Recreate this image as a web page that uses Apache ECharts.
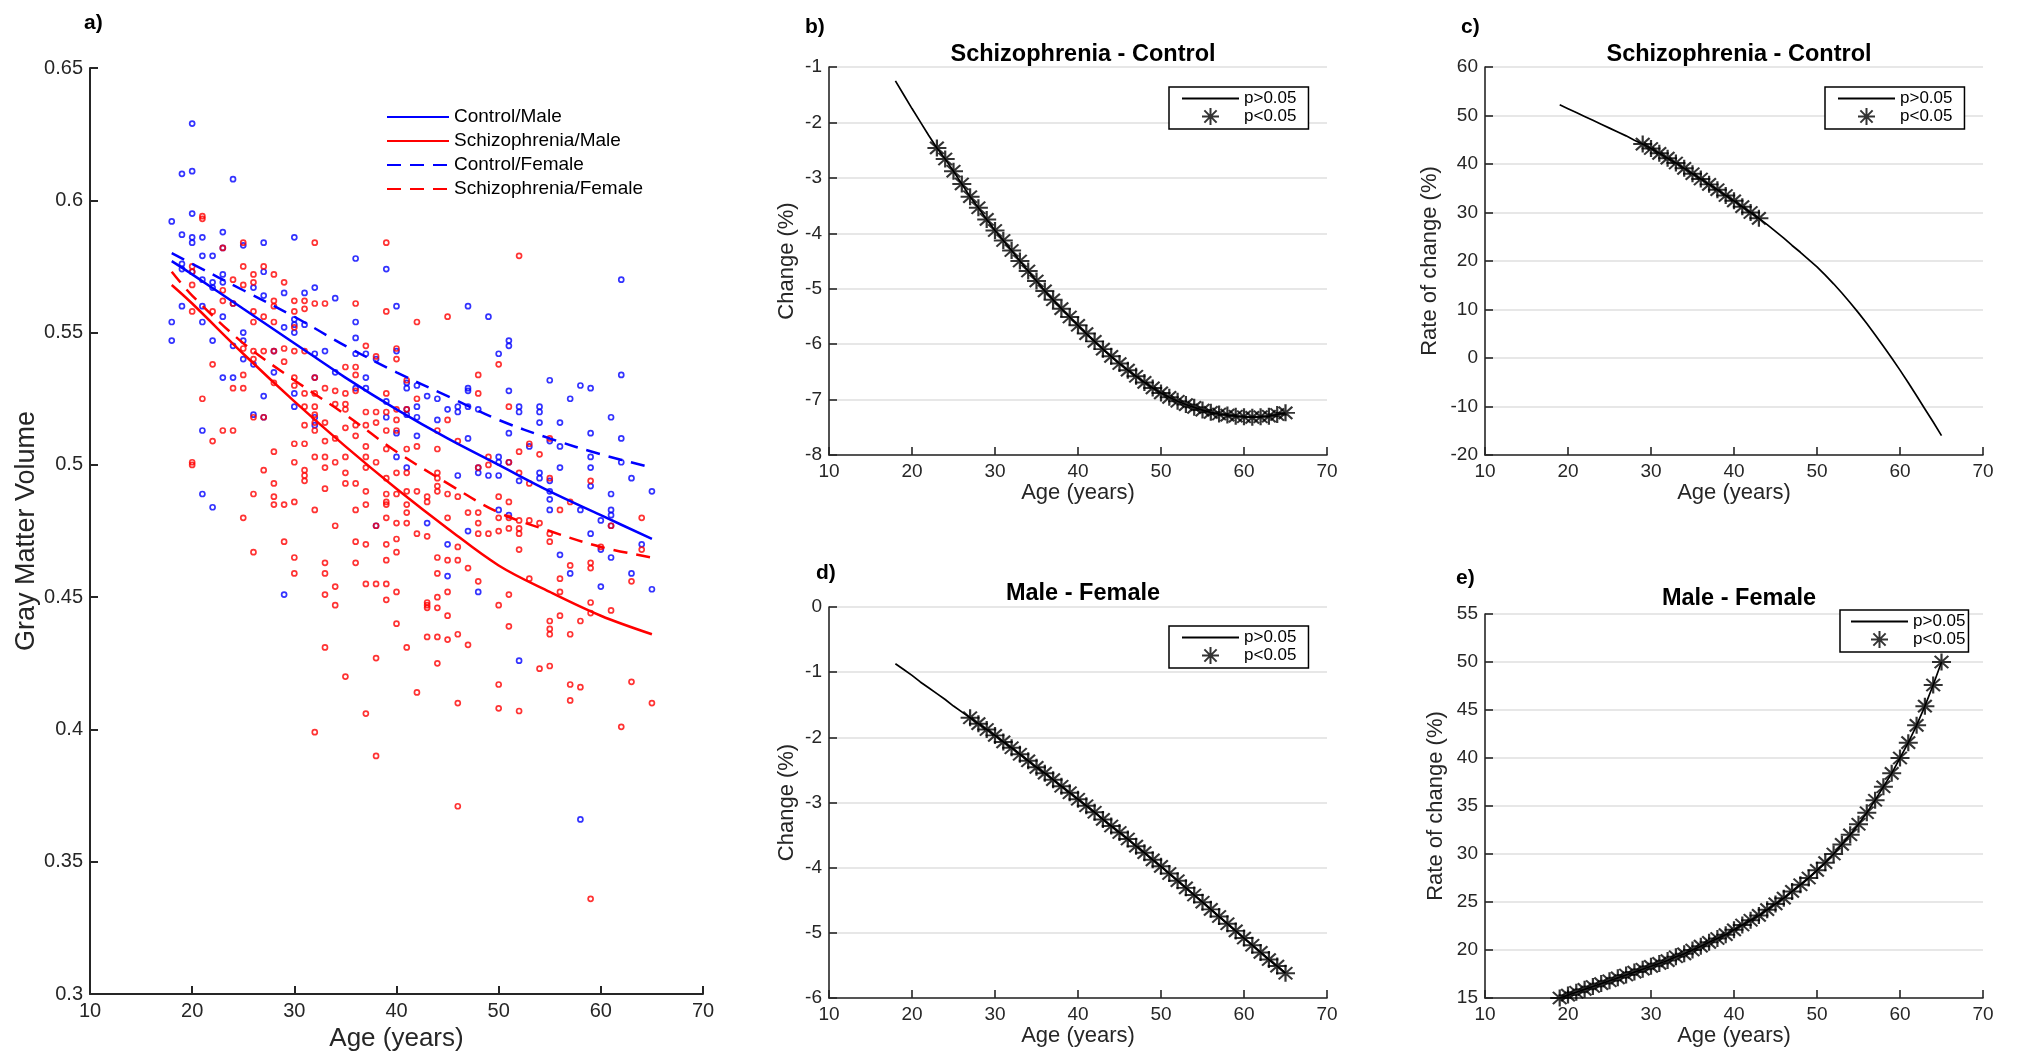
<!DOCTYPE html>
<html><head><meta charset="utf-8">
<script src="https://cdn.jsdelivr.net/npm/echarts@6/dist/echarts.min.js"></script>
<style>html,body{margin:0;padding:0;background:#fff}#c{width:2018px;height:1057px}</style>
</head><body><div id="c"></div>
<script>
const FONT = "'Liberation Sans', Arial, Helvetica, sans-serif";

// ---------- Panel a: scatter data [age, gray matter volume] ----------
const controlPoints = [
[18,0.592],[18,0.554],[18,0.547],
[19,0.610],[19,0.587],[19,0.576],[19,0.574],[19,0.560],
[20,0.629],[20,0.611],[20,0.595],[20,0.586],[20,0.584],[20,0.573],
[21,0.586],[21,0.579],[21,0.570],[21,0.560],[21,0.554],[21,0.513],[21,0.489],
[22,0.579],[22,0.569],[22,0.567],[22,0.547],[22,0.484],
[23,0.588],[23,0.582],[23,0.572],[23,0.569],[23,0.556],[23,0.533],
[24,0.608],[24,0.561],[24,0.545],[24,0.533],
[25,0.583],[25,0.550],[25,0.547],[25,0.540],
[26,0.567],[26,0.538],[26,0.519],
[27,0.584],[27,0.573],[27,0.564],[27,0.526],[27,0.518],
[28,0.543],[28,0.535],
[29,0.565],[29,0.552],[29,0.451],
[30,0.586],[30,0.555],[30,0.553],[30,0.550],[30,0.527],[30,0.522],
[31,0.565],[31,0.553],
[32,0.567],[32,0.542],[32,0.533],[32,0.518],[32,0.515],
[33,0.543],
[34,0.563],[34,0.535],
[36,0.578],[36,0.554],[36,0.548],[36,0.542],[36,0.529],
[37,0.542],[37,0.533],[37,0.529],
[38,0.540],[38,0.477],
[39,0.574],[39,0.524],[39,0.518],
[40,0.560],[40,0.543],[40,0.512],[40,0.503],
[41,0.531],[41,0.529],[41,0.521],[41,0.519],[41,0.499],
[42,0.530],[42,0.522],[42,0.518],[42,0.511],
[43,0.526],[43,0.478],
[44,0.525],[44,0.517],
[45,0.521],[45,0.470],[45,0.458],
[46,0.522],[46,0.520],[46,0.496],
[47,0.560],[47,0.529],[47,0.528],[47,0.522],[47,0.510],[47,0.475],
[48,0.521],[48,0.499],[48,0.497],[48,0.452],
[49,0.556],[49,0.496],
[50,0.542],[50,0.503],[50,0.501],[50,0.496],[50,0.483],
[51,0.547],[51,0.545],[51,0.528],[51,0.512],[51,0.501],[51,0.481],
[52,0.522],[52,0.520],[52,0.494],[52,0.426],
[53,0.507],
[54,0.522],[54,0.520],[54,0.516],[54,0.497],[54,0.495],
[55,0.532],[55,0.509],[55,0.494],[55,0.490],[55,0.487],[55,0.483],
[56,0.516],[56,0.507],[56,0.499],[56,0.466],
[57,0.525],[57,0.459],
[58,0.530],[58,0.483],[58,0.366],
[59,0.529],[59,0.512],[59,0.503],[59,0.499],[59,0.492],[59,0.474],
[60,0.479],[60,0.468],[60,0.454],
[61,0.518],[61,0.489],[61,0.483],[61,0.481],[61,0.477],[61,0.465],
[62,0.570],[62,0.534],[62,0.510],[62,0.501],
[63,0.495],[63,0.459],
[64,0.470],
[65,0.490],[65,0.453]
];
const schizPoints = [
[20,0.501],[20,0.500],[20,0.575],[20,0.573],[20,0.568],[20,0.558],
[21,0.594],[21,0.593],[21,0.525],
[22,0.558],[22,0.538],[22,0.509],
[23,0.582],[23,0.566],[23,0.562],[23,0.513],
[24,0.570],[24,0.561],[24,0.529],[24,0.513],
[25,0.584],[25,0.575],[25,0.568],[25,0.544],[25,0.534],[25,0.529],[25,0.480],
[26,0.572],[26,0.569],[26,0.558],[26,0.554],[26,0.543],[26,0.540],[26,0.518],[26,0.489],[26,0.467],
[27,0.575],[27,0.556],[27,0.543],[27,0.518],[27,0.498],
[28,0.572],[28,0.562],[28,0.560],[28,0.554],[28,0.543],[28,0.531],[28,0.505],[28,0.493],[28,0.488],[28,0.485],
[29,0.569],[29,0.544],[29,0.539],[29,0.485],[29,0.471],
[30,0.562],[30,0.558],[30,0.552],[30,0.543],[30,0.533],[30,0.530],[30,0.508],[30,0.501],[30,0.486],[30,0.465],[30,0.459],
[31,0.562],[31,0.559],[31,0.543],[31,0.527],[31,0.522],[31,0.515],[31,0.508],[31,0.498],[31,0.496],[31,0.494],
[32,0.584],[32,0.561],[32,0.533],[32,0.527],[32,0.522],[32,0.519],[32,0.516],[32,0.513],[32,0.503],[32,0.483],[32,0.399],
[33,0.561],[33,0.529],[33,0.516],[33,0.509],[33,0.503],[33,0.499],[33,0.491],[33,0.463],[33,0.459],[33,0.451],[33,0.431],
[34,0.528],[34,0.523],[34,0.510],[34,0.501],[34,0.477],[34,0.454],[34,0.447],
[35,0.537],[35,0.527],[35,0.523],[35,0.521],[35,0.514],[35,0.503],[35,0.497],[35,0.493],[35,0.420],
[36,0.561],[36,0.537],[36,0.534],[36,0.528],[36,0.515],[36,0.511],[36,0.493],[36,0.483],[36,0.471],[36,0.463],
[37,0.545],[37,0.520],[37,0.515],[37,0.507],[37,0.503],[37,0.499],[37,0.490],[37,0.485],[37,0.470],[37,0.455],[37,0.406],
[38,0.541],[38,0.520],[38,0.516],[38,0.501],[38,0.477],[38,0.455],[38,0.427],[38,0.390],
[39,0.584],[39,0.558],[39,0.527],[39,0.520],[39,0.513],[39,0.506],[39,0.495],[39,0.489],[39,0.486],[39,0.485],[39,0.480],[39,0.470],[39,0.464],[39,0.455],[39,0.449],
[40,0.544],[40,0.540],[40,0.521],[40,0.517],[40,0.513],[40,0.497],[40,0.489],[40,0.478],[40,0.472],[40,0.467],[40,0.452],[40,0.440],
[41,0.532],[41,0.521],[41,0.506],[41,0.497],[41,0.490],[41,0.485],[41,0.482],[41,0.478],[41,0.431],
[42,0.554],[42,0.525],[42,0.507],[42,0.490],[42,0.474],[42,0.414],
[43,0.488],[43,0.486],[43,0.473],[43,0.448],[43,0.447],[43,0.446],[43,0.435],
[44,0.513],[44,0.506],[44,0.497],[44,0.495],[44,0.492],[44,0.490],[44,0.465],[44,0.459],[44,0.450],[44,0.446],[44,0.435],[44,0.425],
[45,0.556],[45,0.517],[45,0.489],[45,0.480],[45,0.464],[45,0.452],[45,0.443],[45,0.434],
[46,0.509],[46,0.488],[46,0.469],[46,0.464],[46,0.436],[46,0.410],[46,0.371],
[47,0.482],[47,0.461],[47,0.432],
[48,0.534],[48,0.527],[48,0.499],[48,0.482],[48,0.478],[48,0.474],[48,0.456],
[49,0.503],[49,0.500],[49,0.474],
[50,0.538],[50,0.488],[50,0.480],[50,0.475],[50,0.447],[50,0.417],[50,0.408],
[51,0.522],[51,0.501],[51,0.486],[51,0.480],[51,0.476],[51,0.451],[51,0.439],
[52,0.579],[52,0.505],[52,0.497],[52,0.479],[52,0.476],[52,0.474],[52,0.468],[52,0.407],
[53,0.508],[53,0.493],[53,0.479],[53,0.457],
[54,0.504],[54,0.478],[54,0.423],
[55,0.510],[55,0.495],[55,0.474],[55,0.471],[55,0.441],[55,0.438],[55,0.436],[55,0.424],
[56,0.483],[56,0.457],[56,0.452],[56,0.443],
[57,0.486],[57,0.462],[57,0.436],[57,0.417],[57,0.411],
[58,0.441],[58,0.416],
[59,0.494],[59,0.463],[59,0.461],[59,0.448],[59,0.444],[59,0.336],
[60,0.469],
[61,0.477],[61,0.445],
[62,0.401],
[63,0.456],[63,0.418],
[64,0.480],[64,0.468],
[65,0.410]
];
// fitted trajectories (read at these ages)
const fitAges          = [18,    20,    25,    30,    35,    40,    45,    50,    55,    60,    65];
const fitControlMale   = [0.577, 0.572, 0.559, 0.546, 0.533, 0.521, 0.510, 0.500, 0.490, 0.481, 0.472];
const fitSchizMale     = [0.568, 0.561, 0.542, 0.524, 0.507, 0.491, 0.476, 0.462, 0.452, 0.443, 0.436];
const fitControlFemale = [0.580, 0.576, 0.566, 0.556, 0.545, 0.535, 0.526, 0.517, 0.510, 0.504, 0.499];
const fitSchizFemale   = [0.573, 0.564, 0.546, 0.532, 0.519, 0.505, 0.493, 0.482, 0.475, 0.469, 0.465];

// ---------- Panels b & d: change (%) at ages 18..65 ----------
const ages18 = [18,19,20,21,22,23,24,25,26,27,28,29,30,31,32,33,34,35,36,37,38,39,40,41,42,43,44,45,46,47,48,49,50,51,52,53,54,55,56,57,58,59,60,61,62,63,64,65];
const bChange = [-1.25,-1.50,-1.75,-1.99,-2.23,-2.46,-2.66,-2.88,-3.11,-3.34,-3.54,-3.75,-3.95,-4.13,-4.31,-4.50,-4.68,-4.86,-5.04,-5.20,-5.36,-5.51,-5.66,-5.81,-5.95,-6.09,-6.22,-6.35,-6.47,-6.58,-6.69,-6.79,-6.88,-6.96,-7.03,-7.09,-7.14,-7.19,-7.23,-7.26,-7.28,-7.30,-7.31,-7.32,-7.31,-7.30,-7.27,-7.24];
const bSigFrom = 23, bSigTo = 65;
const dChange = [-0.87,-0.96,-1.05,-1.15,-1.24,-1.33,-1.42,-1.52,-1.61,-1.70,-1.79,-1.88,-1.97,-2.07,-2.16,-2.26,-2.36,-2.46,-2.55,-2.65,-2.75,-2.85,-2.95,-3.05,-3.15,-3.26,-3.36,-3.46,-3.56,-3.67,-3.77,-3.88,-3.98,-4.09,-4.20,-4.31,-4.42,-4.53,-4.64,-4.75,-4.86,-4.97,-5.08,-5.19,-5.30,-5.41,-5.51,-5.62];
const dSigFrom = 27, dSigTo = 65;

// ---------- Panels c & e: rate of change (%) at ages 19..65 ----------
const ages19 = [19,20,21,22,23,24,25,26,27,28,29,30,31,32,33,34,35,36,37,38,39,40,41,42,43,44,45,46,47,48,49,50,51,52,53,54,55,56,57,58,59,60,61,62,63,64,65];
const cRate = [52.2,51.4,50.6,49.8,49.0,48.2,47.4,46.6,45.8,44.9,44.1,43.2,42.2,41.2,40.2,39.1,38.0,36.9,35.8,34.7,33.5,32.4,31.2,30.0,28.8,27.5,26.1,24.7,23.2,21.8,20.3,18.8,17.1,15.3,13.4,11.4,9.3,7.1,4.8,2.4,0.0,-2.5,-5.1,-7.8,-10.5,-13.2,-16.0];
const cSigFrom = 29, cSigTo = 43;
const eRate = [15.0,15.3,15.6,15.9,16.2,16.5,16.8,17.1,17.4,17.7,18.0,18.3,18.6,18.9,19.3,19.6,20.0,20.4,20.8,21.2,21.6,22.1,22.6,23.1,23.6,24.2,24.8,25.4,26.1,26.8,27.5,28.3,29.1,30.0,31.0,32.0,33.1,34.3,35.6,37.0,38.4,40.0,41.6,43.4,45.4,47.6,50.0];
const eSigFrom = 19, eSigTo = 65;

// ---------- helpers ----------
const pairs = (xs, ys) => xs.map((x, i) => [x, ys[i]]);
const sig = (xs, ys, a, b) => pairs(xs, ys).filter(p => p[0] >= a && p[0] <= b);
const STAR = 'path://M0,-10L0,10M-10,0L10,0M-7.2,-7.2L7.2,7.2M-7.2,7.2L7.2,-7.2';
const AX = '#262626';

function xAx(gi, labelSize, nameSize, nameGap, w) {
  return {
    type: 'value', gridIndex: gi, min: 10, max: 70, interval: 10,
    name: 'Age (years)', nameLocation: 'middle', nameGap: nameGap,
    nameTextStyle: { fontSize: nameSize, color: AX, fontFamily: FONT },
    axisLine: { show: true, onZero: false, lineStyle: { color: AX, width: w } },
    axisTick: { show: true, inside: true, length: 8, lineStyle: { color: AX, width: w } },
    axisLabel: { fontSize: labelSize, color: AX, fontFamily: FONT, margin: 7 },
    splitLine: { show: false }
  };
}
function yAx(gi, min, max, interval, name, labelSize, nameSize, nameGap, grid, w) {
  return {
    type: 'value', gridIndex: gi, min: min, max: max, interval: interval,
    name: name, nameLocation: 'middle', nameGap: nameGap,
    nameTextStyle: { fontSize: nameSize, color: AX, fontFamily: FONT },
    axisLine: { show: true, onZero: false, lineStyle: { color: AX, width: w } },
    axisTick: { show: true, inside: true, length: 8, lineStyle: { color: AX, width: w } },
    axisLabel: { fontSize: labelSize, color: AX, fontFamily: FONT, margin: 7 },
    splitLine: { show: grid, lineStyle: { color: '#dfdfdf', width: 1.6 } }
  };
}
function curve(gi, data) {
  return { name: 'p>0.05', type: 'line', xAxisIndex: gi, yAxisIndex: gi, data: data,
    showSymbol: false, symbol: 'none', lineStyle: { color: '#000', width: 1.7 }, itemStyle: { color: '#000' },
    silent: true, animation: false, z: 2 };
}
function stars(gi, data) {
  return { name: 'p<0.05', type: 'scatter', xAxisIndex: gi, yAxisIndex: gi, data: data,
    symbol: STAR, symbolSize: [19, 17],
    itemStyle: { color: '#000', borderColor: '#000', borderWidth: 2.1 },
    silent: true, animation: false, z: 3 };
}
function pLegend(left, top, pad) {
  return {
    left: left, top: top, orient: 'vertical', itemGap: 0, itemWidth: 57, itemHeight: 17,
    padding: pad, borderColor: '#000', borderWidth: 1.5, backgroundColor: '#fff',
    textStyle: { fontSize: 17, color: '#000', fontFamily: FONT, lineHeight: 17 },
    data: [{ name: 'p>0.05', itemStyle: { opacity: 0 } }, { name: 'p<0.05', itemStyle: { borderWidth: 2 } }],
    selectedMode: false
  };
}
const fitLine = (name, color, dashed, ys) => ({
  name: name, type: 'line', xAxisIndex: 0, yAxisIndex: 0, data: pairs(fitAges, ys),
  smooth: 0.35, showSymbol: false, symbol: 'none',
  lineStyle: { color: color, width: 2.5, type: dashed ? [14, 9] : 'solid' },
  itemStyle: { color: color }, silent: true, animation: false, z: 4
});
const titleStyle = (s) => ({ fontSize: s, fontWeight: 'bold', color: '#000', fontFamily: FONT });

const option = {
  animation: false,
  backgroundColor: '#fff',
  textStyle: { fontFamily: FONT },
  title: [
    { text: 'a)', left: 79, top: 8, textStyle: titleStyle(21) },
    { text: 'b)', left: 800, top: 12, textStyle: titleStyle(21) },
    { text: 'c)', left: 1456, top: 12, textStyle: titleStyle(21) },
    { text: 'd)', left: 811, top: 558, textStyle: titleStyle(21) },
    { text: 'e)', left: 1451, top: 563, textStyle: titleStyle(21) },
    { text: 'Schizophrenia - Control', left: 1078, top: 38, textAlign: 'center', textStyle: titleStyle(23.5) },
    { text: 'Schizophrenia - Control', left: 1734, top: 38, textAlign: 'center', textStyle: titleStyle(23.5) },
    { text: 'Male - Female', left: 1078, top: 577, textAlign: 'center', textStyle: titleStyle(23.5) },
    { text: 'Male - Female', left: 1734, top: 582, textAlign: 'center', textStyle: titleStyle(23.5) }
  ],
  grid: [
    { left: 90, top: 68, width: 613, height: 929 },
    { left: 829, top: 67, width: 498, height: 388 },
    { left: 1485, top: 67, width: 498, height: 388 },
    { left: 829, top: 607, width: 498, height: 391 },
    { left: 1485, top: 614, width: 498, height: 384 }
  ],
  xAxis: [
    xAx(0, 20, 26, 30, 2),
    xAx(1, 19, 22, 24, 1.6),
    xAx(2, 19, 22, 24, 1.6),
    xAx(3, 19, 22, 24, 1.6),
    xAx(4, 19, 22, 24, 1.6)
  ],
  yAxis: [
    yAx(0, 0.3, 0.65, 0.05, 'Gray Matter Volume', 20, 27, 50, false, 2),
    yAx(1, -8, -1, 1, 'Change (%)', 19, 22, 31, true, 1.6),
    yAx(2, -20, 60, 10, 'Rate of change (%)', 19, 22, 44, true, 1.6),
    yAx(3, -6, 0, 1, 'Change (%)', 19, 22, 31, true, 1.6),
    yAx(4, 15, 55, 5, 'Rate of change (%)', 19, 22, 38, true, 1.6)
  ],
  legend: [
    {
      left: 386, top: 107, orient: 'vertical', itemGap: 4, itemWidth: 62, itemHeight: 14, padding: 0,
      textStyle: { fontSize: 19, color: '#000', fontFamily: FONT, lineHeight: 20 },
      data: ['Control/Male', 'Schizophrenia/Male', 'Control/Female', 'Schizophrenia/Female']
        .map(n => ({ name: n, itemStyle: { opacity: 0 } })),
      selectedMode: false
    },
    pLegend(1169, 87, [3, 12, 3, 12]),
    pLegend(1825, 87, [3, 12, 3, 12]),
    pLegend(1169, 626, [3, 12, 3, 12]),
    pLegend(1840, 610, [3, 3, 3, 10])
  ],
  series: [
    { name: 'controlPts', type: 'scatter', xAxisIndex: 0, yAxisIndex: 0, data: controlPoints,
      symbol: 'circle', symbolSize: 5,
      itemStyle: { color: 'rgba(0,0,0,0)', borderColor: '#0000ff', borderWidth: 1.7 }, silent: true, z: 2 },
    { name: 'schizPts', type: 'scatter', xAxisIndex: 0, yAxisIndex: 0, data: schizPoints,
      symbol: 'circle', symbolSize: 5,
      itemStyle: { color: 'rgba(0,0,0,0)', borderColor: '#ff0000', borderWidth: 1.7 }, silent: true, z: 2 },
    fitLine('Control/Male', '#0000ff', false, fitControlMale),
    fitLine('Schizophrenia/Male', '#ff0000', false, fitSchizMale),
    fitLine('Control/Female', '#0000ff', true, fitControlFemale),
    fitLine('Schizophrenia/Female', '#ff0000', true, fitSchizFemale),
    curve(1, pairs(ages18, bChange)), stars(1, sig(ages18, bChange, bSigFrom, bSigTo)),
    curve(2, pairs(ages19, cRate)),   stars(2, sig(ages19, cRate, cSigFrom, cSigTo)),
    curve(3, pairs(ages18, dChange)), stars(3, sig(ages18, dChange, dSigFrom, dSigTo)),
    curve(4, pairs(ages19, eRate)),   stars(4, sig(ages19, eRate, eSigFrom, eSigTo))
  ]
};
const chart = echarts.init(document.getElementById('c'), null, { renderer: 'canvas' });
chart.setOption(option);
</script>
</body></html>
